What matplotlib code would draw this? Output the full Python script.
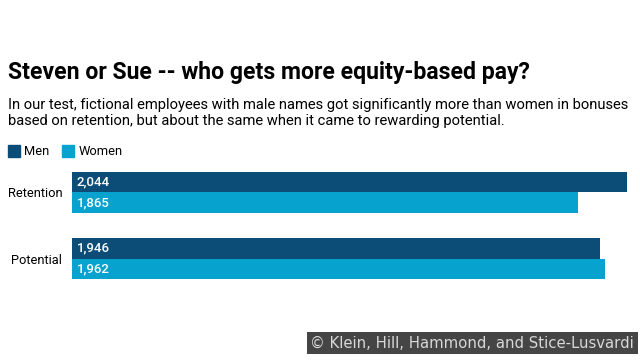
import matplotlib.pyplot as plt
from matplotlib.patches import Rectangle

categories = ["Retention", "Potential"]
men = [2044, 1946]
women = [1865, 1962]

title = "Steven or Sue -- who gets more equity-based pay?"
subtitle = ("In our test, fictional employees with male names got significantly more than women in bonuses\n"
            "based on retention, but about the same when it came to rewarding potential.")
credit = "\u00a9 Klein, Hill, Hammond, and Stice-Lusvardi"

men_color = "#0c4d78"
women_color = "#08a2cf"

plt.rcParams["font.family"] = ["Roboto", "DejaVu Sans"]

W, H = 640, 360
fig = plt.figure(figsize=(6.4, 3.6), dpi=100)

# axes placed in pixel terms: bars start at x=72, longest ends at x=627
left, right, top, bottom = 72, 627, 171, 280
ax = fig.add_axes([left / W, 1 - bottom / H, (right - left) / W, (bottom - top) / H])

bh = 0.31
ypos = list(range(len(categories)))
ax.barh([y - bh / 2 for y in ypos], men, height=bh, color=men_color, label="Men")
ax.barh([y + bh / 2 for y in ypos], women, height=bh, color=women_color, label="Women")

for y, m, w in zip(ypos, men, women):
    ax.text(18, y - bh / 2, f"{m:,}", color="white", va="center", ha="left",
            fontsize=9.5, fontweight="medium")
    ax.text(18, y + bh / 2, f"{w:,}", color="white", va="center", ha="left",
            fontsize=9.5, fontweight="medium")

ax.set_xlim(0, max(men + women))
ax.set_ylim(len(categories) - 1 + bh + 0.01, -bh - 0.01)
ax.set_yticks(ypos)
ax.set_yticklabels(categories, fontsize=9.3)
ax.tick_params(axis="y", length=0, pad=7)
ax.set_xticks([])
for s in ax.spines.values():
    s.set_visible(False)

fig.text(8 / W, 1 - 73 / H, title, fontsize=16.6, fontweight="bold", va="center", ha="left")
fig.text(8 / W, 1 - 113 / H, subtitle, fontsize=10.6, va="center", ha="left", linespacing=1.15)

# legend
fig.patches.append(Rectangle((8 / W, 1 - 157 / H), 12 / W, 12 / H, color=men_color,
                             transform=fig.transFigure, figure=fig))
fig.text(24 / W, 1 - 151 / H, "Men", fontsize=9.3, va="center", ha="left")
fig.patches.append(Rectangle((62 / W, 1 - 157 / H), 12 / W, 12 / H, color=women_color,
                             transform=fig.transFigure, figure=fig))
fig.text(79 / W, 1 - 151 / H, "Women", fontsize=9.3, va="center", ha="left")

# credit box
fig.text(634 / W, 1 - 343 / H, credit, fontsize=10.7, color="#d8d8d8", va="center", ha="right",
         family="DejaVu Sans",
         bbox=dict(boxstyle="square,pad=0.25", facecolor="#454545", edgecolor="none"))

fig.savefig("out.png", dpi=100)
